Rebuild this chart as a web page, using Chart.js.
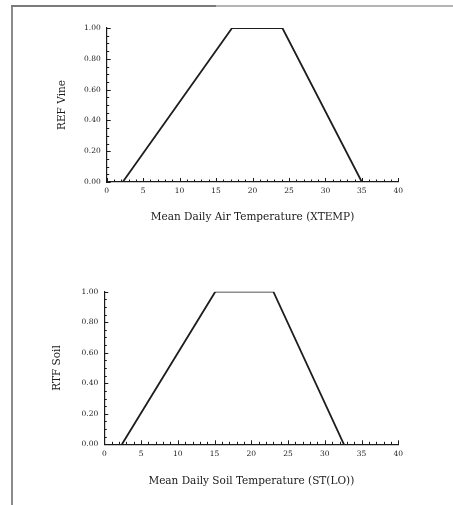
<!DOCTYPE html>
<html>
<head>
<meta charset="utf-8">
<script src="https://cdn.jsdelivr.net/npm/chart.js@4.4.0/dist/chart.umd.min.js"></script>
<style>
  body { margin: 0; background: #fff; width: 453px; height: 505px; position: relative; overflow: hidden; }
  canvas { position: absolute; left: 0; }
  .line { position: absolute; }
</style>
</head>
<body>
<div class="line" style="left:11px;top:6px;width:2px;height:499px;background:#8c8c8c"></div>
<div class="line" style="left:11px;top:5px;width:205px;height:2px;background:#7a7a7a"></div>
<div class="line" style="left:216px;top:5px;width:237px;height:2px;background:#b4b4b4"></div>
<canvas id="top" width="453" height="240" style="top:0"></canvas>
<canvas id="bottom" width="453" height="255" style="top:250px"></canvas>
<script>
// values (temperature in °C, response 0..1)
const airTemp = [2.2, 17.2, 24.1, 35.0];
const refVine = [0, 1, 1, 0];
const soilTemp = [2.4, 15.1, 23.0, 32.6];
const rtfSoil = [0, 1, 1, 0];

const xMin = 0, xMax = 40, xStep = 5;
const yMin = 0, yMax = 1, yStep = 0.2;

const ink = '#1a1a1a';
const tickFont = { family: 'DejaVu Serif', size: 7.5 };
const titleFont = { family: 'DejaVu Serif', size: 10.5 };

// small tick marks drawn inward from the axes, like the printed figure
const innerTicks = {
  id: 'innerTicks',
  afterDraw(chart) {
    const { ctx, scales: { x, y } } = chart;
    ctx.save();
    ctx.strokeStyle = ink;
    ctx.lineWidth = 1;
    ctx.beginPath();
    for (let v = xMin; v <= xMax; v += 1) {
      const px = Math.round(x.getPixelForValue(v)) + 0.5;
      const len = v % xStep === 0 ? 4 : 2.5;
      ctx.moveTo(px, y.bottom);
      ctx.lineTo(px, y.bottom - len);
    }
    for (let i = 0; i <= 20; i++) {
      const py = Math.round(y.getPixelForValue(i * 0.05)) + 0.5;
      const len = i % 4 === 0 ? 4 : 2.5;
      ctx.moveTo(x.left, py);
      ctx.lineTo(x.left + len, py);
    }
    ctx.stroke();
    ctx.restore();
  }
};

function makeChart(id, xs, ys, xTitle, yTitle, pad, yWidth, xHeight) {
  return new Chart(document.getElementById(id), {
    type: 'scatter',
    data: {
      datasets: [{
        data: xs.map((v, i) => ({ x: v, y: ys[i] })),
        showLine: true,
        borderColor: '#1e1e1e',
        borderWidth: 1.8,
        pointRadius: 0,
        tension: 0
      }]
    },
    options: {
      responsive: false,
      animation: false,
      layout: { padding: pad },
      plugins: { legend: { display: false }, tooltip: { enabled: false } },
      scales: {
        x: {
          type: 'linear', min: xMin, max: xMax,
          afterFit: s => { s.height = xHeight; },
          grid: { display: false, drawTicks: false },
          border: { color: ink, width: 1.2 },
          ticks: { stepSize: xStep, padding: 5, font: tickFont, color: ink, autoSkip: false },
          title: { display: true, text: xTitle, font: titleFont, color: ink, padding: 0 }
        },
        y: {
          min: yMin, max: yMax,
          afterFit: s => { s.width = yWidth; },
          grid: { display: false, drawTicks: false },
          border: { color: ink, width: 1.2 },
          ticks: { stepSize: yStep, padding: 6, font: tickFont, color: ink, callback: v => v.toFixed(2) },
          title: { display: true, text: yTitle, font: titleFont, color: ink, padding: 0 }
        }
      }
    },
    plugins: [innerTicks]
  });
}

makeChart('top', airTemp, refVine, 'Mean Daily Air Temperature (XTEMP)', 'REF Vine',
  { left: 56, right: 54.7, top: 28, bottom: 16 }, 50.7, 42);
makeChart('bottom', soilTemp, rtfSoil, 'Mean Daily Soil Temperature (ST(LO))', 'RTF Soil',
  { left: 51, right: 54.7, top: 41.7, bottom: 17 }, 53.3, 43.7);
</script>
</body>
</html>
